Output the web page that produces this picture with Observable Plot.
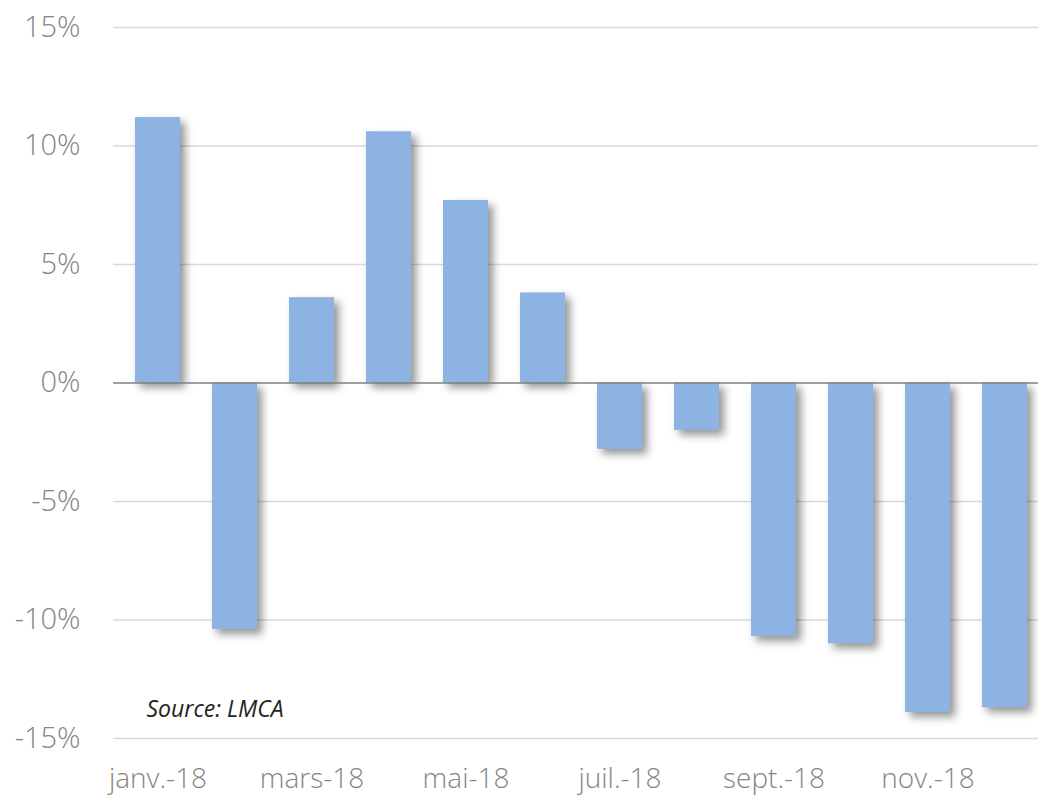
<!DOCTYPE html>
<html>
<head>
<meta charset="utf-8">
<script src="https://cdn.jsdelivr.net/npm/d3@7"></script>
<script src="https://cdn.jsdelivr.net/npm/@observablehq/plot@0.6"></script>
<style>
  html, body { margin: 0; padding: 0; background: #fff; overflow: hidden; }
  #chart svg { display: block; }
</style>
</head>
<body>
<div id="chart"></div>
<script>
const months = ["janv.-18", "févr.-18", "mars-18", "avr.-18", "mai-18", "juin-18",
                "juil.-18", "août-18", "sept.-18", "oct.-18", "nov.-18", "déc.-18"];
const values = [11.2, -10.4, 3.6, 10.6, 7.7, 3.8, -2.8, -2.0, -10.7, -11.0, -13.9, -13.7];
const xTickLabels = ["janv.-18", "mars-18", "mai-18", "juil.-18", "sept.-18", "nov.-18"];
const yTicks = [-15, -10, -5, 0, 5, 10, 15];
const sourceText = ["Source: LMCA"];

const data = months.map((m, i) => ({month: m, value: values[i]}));

const chart = Plot.plot({
  width: 1038,
  height: 798,
  marginLeft: 113,
  marginRight: 0,
  marginTop: 27,
  marginBottom: 60,
  style: {fontFamily: "'Open Sans', sans-serif", background: "#fff"},
  x: {domain: months, range: [114, 1049], paddingInner: 0.41, paddingOuter: 0.205, label: null},
  y: {domain: [-15, 15], label: null},
  marks: [
    Plot.ruleY(yTicks.filter(d => d !== 0), {stroke: "#d9d9d9", strokeWidth: 1.3}),
    Plot.barY(data, {x: "month", y: "value", fill: "#8db3e2"}),
    Plot.ruleY([0], {stroke: "#7f7f7f", strokeWidth: 1.5}),
    Plot.axisY({ticks: yTicks, tickSize: 0, tickPadding: 33, tickFormat: d => d + "%",
                fontSize: 29, fill: "#858585", fontWeight: 300, label: null}),
    Plot.axisX({ticks: xTickLabels, tickSize: 0, tickPadding: 30, fontSize: 28,
                fill: "#858585", fontWeight: 300, label: null}),
    Plot.text(sourceText, {text: d => d, frameAnchor: "bottom-left", textAnchor: "start",
                lineAnchor: "middle", dx: 33, dy: -29, fontSize: 23, fontStyle: "italic",
                fill: "#222"})
  ]
});

const bars = chart.querySelector('g[aria-label="bar"]');
if (bars) bars.style.filter = "drop-shadow(5px 5px 4px rgba(0,0,0,0.42))";

document.getElementById("chart").appendChild(chart);
</script>
</body>
</html>
